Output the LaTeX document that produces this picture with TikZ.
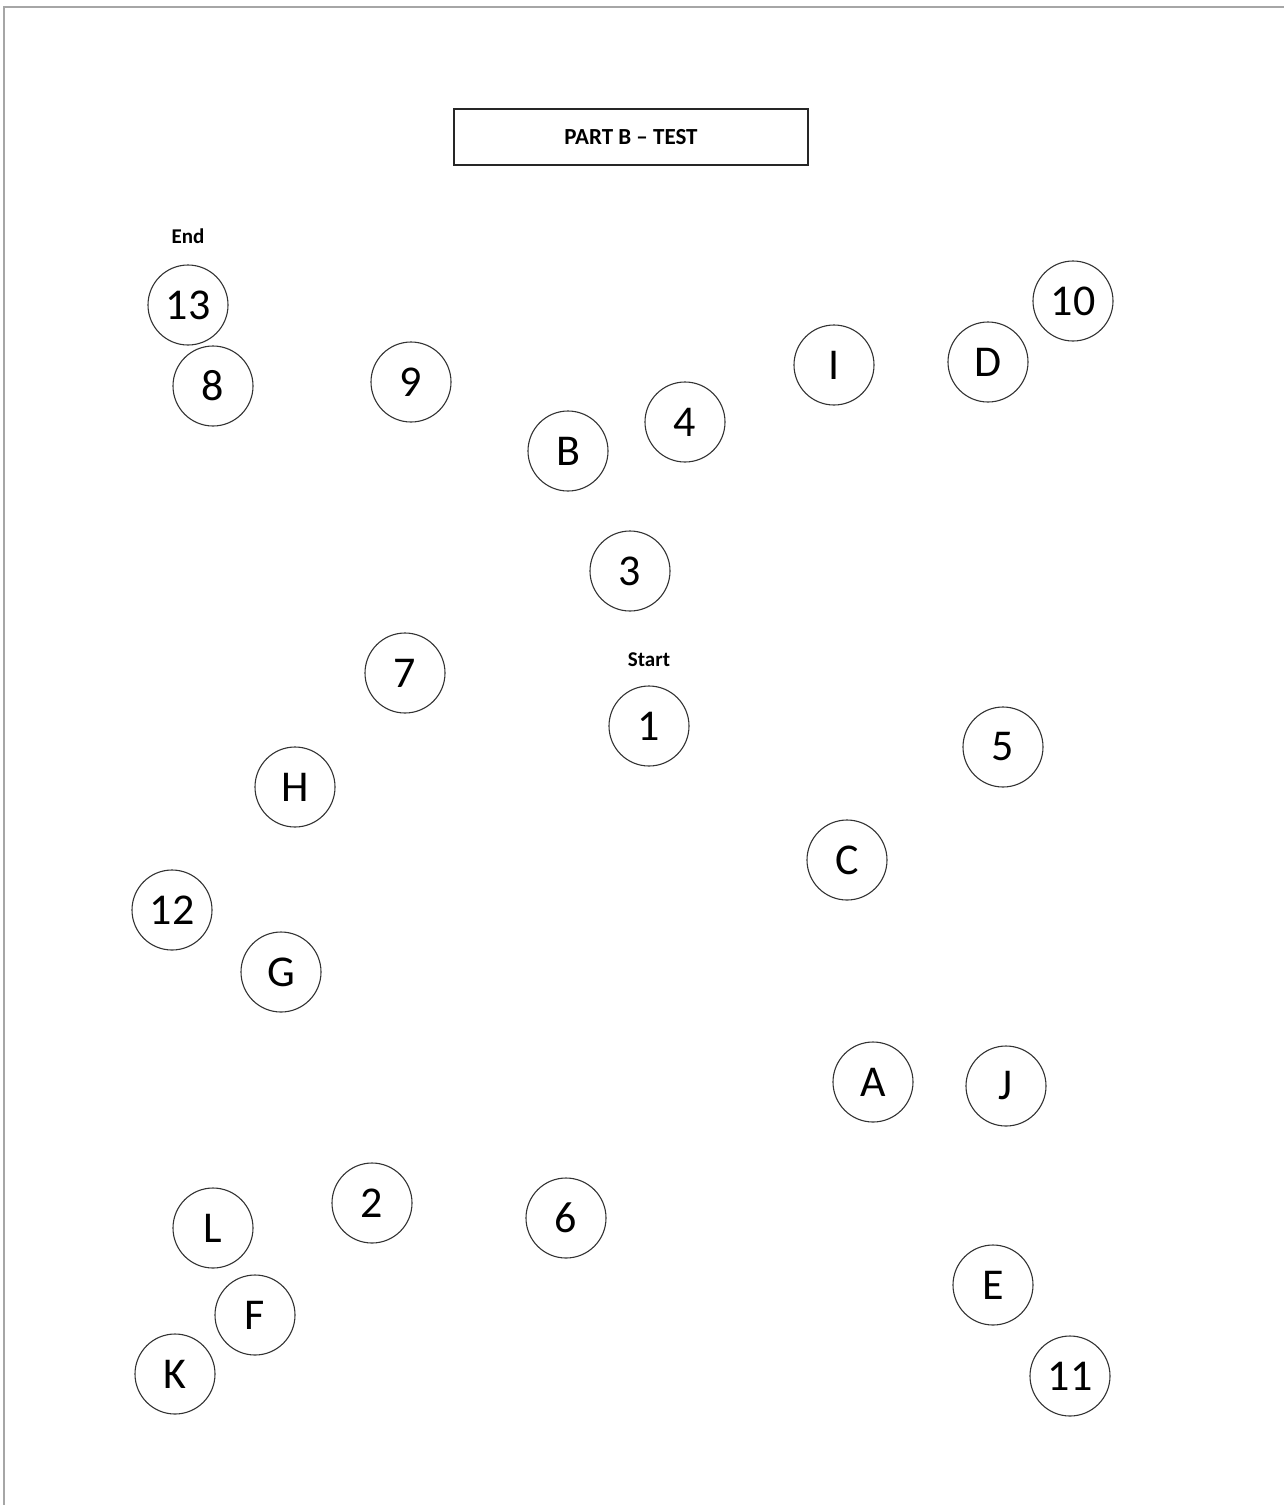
\documentclass[tikz,border=0pt]{standalone}
\usepackage{fontspec}
\setmainfont{Carlito}
\begin{document}
\begin{tikzpicture}[x=1pt,y=-1pt,
  stop/.style={circle,draw=black!80,line width=1.1pt,minimum size=80pt,inner sep=0pt,font=\fontsize{44}{44}\selectfont},
  lbl/.style={font=\bfseries\fontsize{21}{21}\selectfont,inner sep=0pt},
  titlebox/.style={draw=black!85,line width=2.2pt,minimum width=354pt,minimum height=56pt,inner sep=0pt,font=\bfseries\fontsize{23}{23}\selectfont}]
\useasboundingbox (0,0) rectangle (1284,1505);
\draw[black!35,line width=1.5pt] (1284,7) -- (4,7) -- (4,1505);
\node[titlebox] (title) at (631,137) {PART B -- TEST};
\node[stop] (n13) at (188,305) {13};
\node[stop] (n8) at (213,386) {8};
\node[stop] (n9) at (411,382) {9};
\node[stop] (nB) at (568,451) {B};
\node[stop] (n4) at (685,422) {4};
\node[stop] (nI) at (834,365) {I};
\node[stop] (nD) at (988,362) {D};
\node[stop] (n10) at (1073,301) {10};
\node[stop] (n3) at (630,571) {3};
\node[stop] (n7) at (405,673) {7};
\node[stop] (n1) at (649,726) {1};
\node[stop] (n5) at (1003,747) {5};
\node[stop] (nH) at (295,787) {H};
\node[stop] (nC) at (847,860) {C};
\node[stop] (n12) at (172,910) {12};
\node[stop] (nG) at (281,972) {G};
\node[stop] (nA) at (873,1082) {A};
\node[stop] (nJ) at (1006,1086) {J};
\node[stop] (n2) at (372,1203) {2};
\node[stop] (n6) at (566,1218) {6};
\node[stop] (nL) at (213,1228) {L};
\node[stop] (nF) at (255,1315) {F};
\node[stop] (nE) at (993,1285) {E};
\node[stop] (nK) at (175,1374) {K};
\node[stop] (n11) at (1070,1376) {11};
\node[lbl] (endlbl) at (188,236) {End};
\node[lbl] (startlbl) at (649,660) {Start};
\end{tikzpicture}
\end{document}
